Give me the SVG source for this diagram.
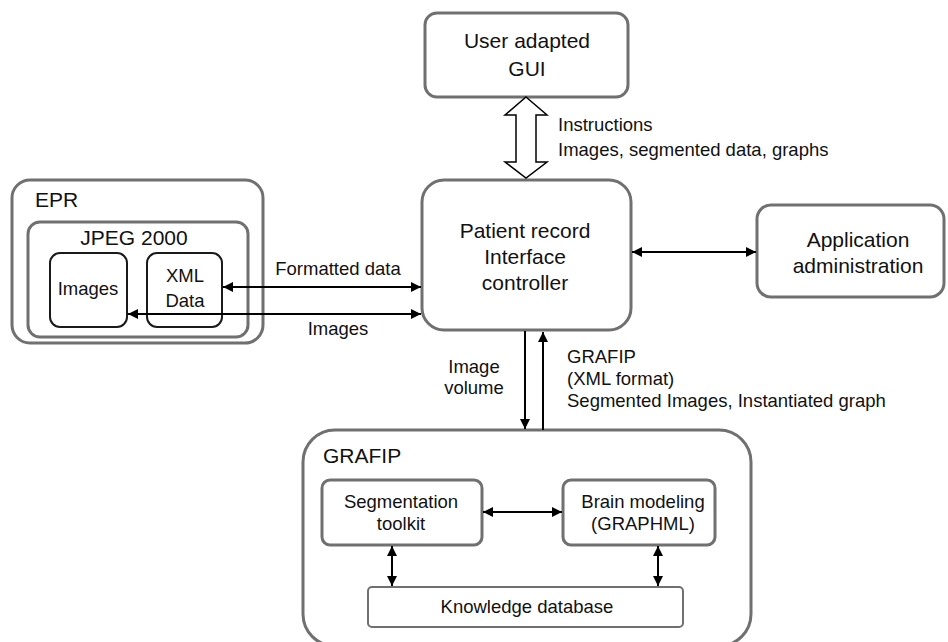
<svg xmlns="http://www.w3.org/2000/svg" width="948" height="642" viewBox="0 0 948 642">
<defs>
<style>
text{font-family:"Liberation Sans",Arial,sans-serif;fill:#111;}
.t21{font-size:21px;}
.t18{font-size:18.5px;}
.mid{text-anchor:middle;}
.box{fill:#fff;stroke:#707070;stroke-width:3;}
.thin{fill:#fff;stroke:#707070;stroke-width:2;}
.dark{fill:#fff;stroke:#1a1a1a;stroke-width:2;}
.arr{fill:none;stroke:#000;stroke-width:2;marker-end:url(#ah);}
.arr2{fill:none;stroke:#000;stroke-width:2;marker-start:url(#ahs);marker-end:url(#ah);}
</style>
<marker id="ah" viewBox="0 0 10 10" refX="10" refY="5" markerWidth="5" markerHeight="5" orient="auto" markerUnits="strokeWidth">
<path d="M0,0 L10,5 L0,10 z" fill="#000"/>
</marker>
<marker id="ahs" viewBox="0 0 10 10" refX="0" refY="5" markerWidth="5" markerHeight="5" orient="auto" markerUnits="strokeWidth">
<path d="M10,0 L0,5 L10,10 z" fill="#000"/>
</marker>
</defs>
<rect width="948" height="642" fill="#fff"/>

<g id="gui">
<rect class="box" x="425" y="13" width="203" height="84" rx="12"/>
<text class="t21 mid" x="527" y="48">User adapted</text>
<text class="t21 mid" x="527" y="76">GUI</text>
</g>

<g id="epr">
<rect class="box" x="12" y="180" width="251" height="163" rx="18"/>
<text class="t21" x="35" y="207">EPR</text>
<g id="jpeg2000">
<rect class="box" x="28" y="222" width="220" height="115" rx="12"/>
<text class="t21 mid" x="134" y="245">JPEG 2000</text>
</g>
<g id="images">
<rect class="dark" x="50" y="253" width="77" height="74" rx="10"/>
<text class="t18 mid" x="88" y="295">Images</text>
</g>
<g id="xmldata">
<rect class="dark" x="147" y="253" width="75" height="74" rx="10"/>
<text class="t18 mid" x="185" y="282">XML</text>
<text class="t18 mid" x="185" y="307">Data</text>
</g>
</g>

<g id="controller">
<rect class="box" x="422" y="180" width="209" height="150" rx="22"/>
<text class="t21 mid" x="525" y="238">Patient record</text>
<text class="t21 mid" x="525" y="264">Interface</text>
<text class="t21 mid" x="525" y="290">controller</text>
</g>

<g id="admin">
<rect class="box" x="757" y="205" width="187" height="92" rx="14"/>
<text class="t21 mid" x="858" y="247">Application</text>
<text class="t21 mid" x="858" y="273">administration</text>
</g>

<g id="grafip">
<rect class="box" x="303" y="430" width="448" height="216" rx="32"/>
<text class="t21" x="323" y="463">GRAFIP</text>
<g id="segmentation">
<rect class="box" x="322" y="480" width="160" height="65" rx="8"/>
<text class="t18 mid" x="401" y="508">Segmentation</text>
<text class="t18 mid" x="401" y="530">toolkit</text>
</g>
<g id="brain">
<rect class="box" x="563" y="480" width="152" height="65" rx="8"/>
<text class="t18 mid" x="643" y="508">Brain modeling</text>
<text class="t18 mid" x="643" y="530">(GRAPHML)</text>
</g>
<g id="knowledge">
<rect class="thin" x="368" y="587" width="315" height="40" rx="4"/>
<text class="t18 mid" x="527" y="613">Knowledge database</text>
</g>
</g>

<g id="connectors">
<polygon points="526,97 547,115 536,115 536,162 547,162 526,178 505,162 516,162 516,115 505,115" fill="#fff" stroke="#000" stroke-width="1.5"/>
<line class="arr2" x1="223" y1="287" x2="421" y2="287"/>
<line class="arr2" x1="128" y1="314" x2="421" y2="314"/>
<line class="arr2" x1="632" y1="252" x2="756" y2="252"/>
<line class="arr" x1="525" y1="331" x2="525" y2="429"/>
<line class="arr" x1="543" y1="430" x2="543" y2="332"/>
<line class="arr2" x1="483" y1="512" x2="562" y2="512"/>
<line class="arr2" x1="392" y1="546" x2="392" y2="586"/>
<line class="arr2" x1="658" y1="546" x2="658" y2="586"/>
</g>

<g id="labels">
<text class="t18" x="558" y="131">Instructions</text>
<text class="t18" x="558" y="156">Images, segmented data, graphs</text>
<text class="t18 mid" x="338" y="275">Formatted data</text>
<text class="t18 mid" x="338" y="335">Images</text>
<text class="t18 mid" x="474" y="373">Image</text>
<text class="t18 mid" x="474" y="394">volume</text>
<text class="t18" x="567" y="363">GRAFIP</text>
<text class="t18" x="567" y="385">(XML format)</text>
<text class="t18" x="567" y="407">Segmented Images, Instantiated graph</text>
</g>
</svg>
